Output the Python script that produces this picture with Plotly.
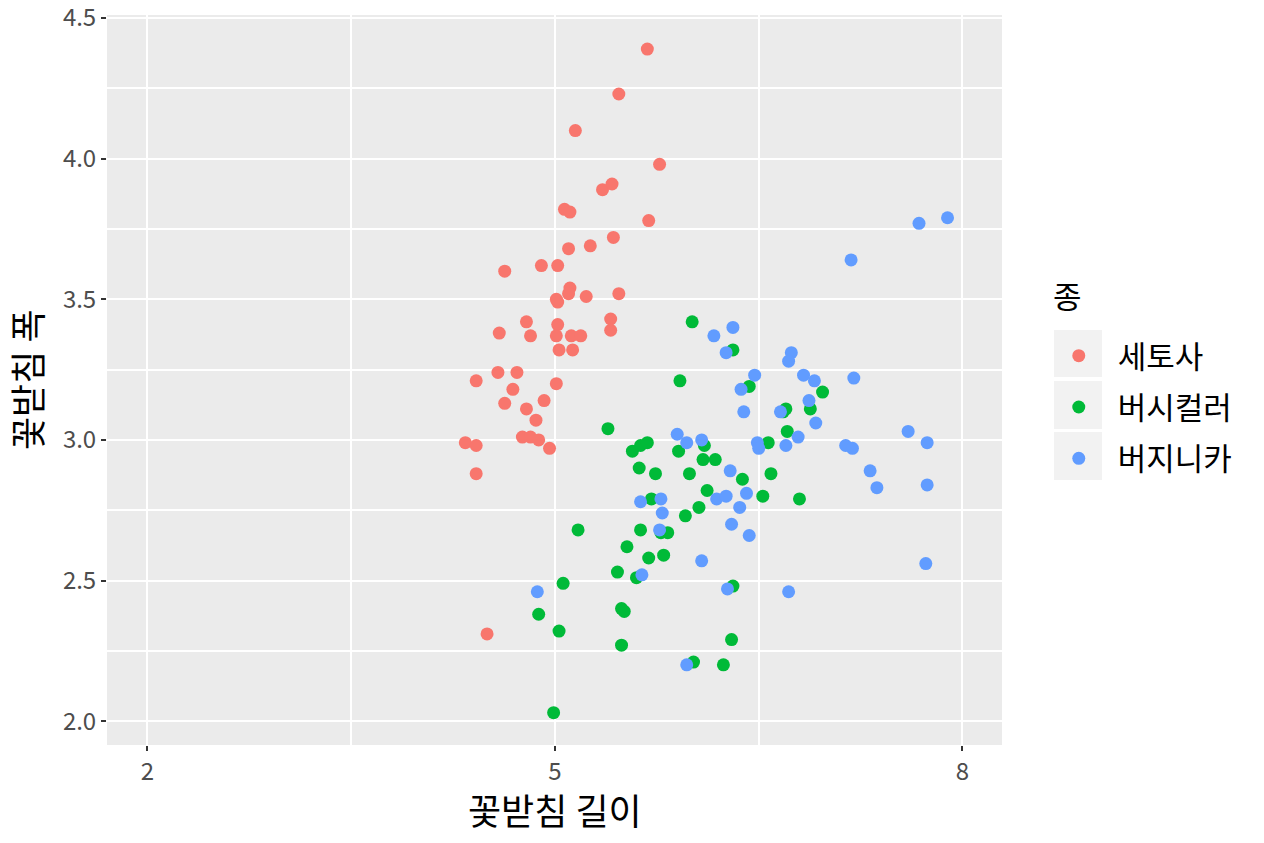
import plotly.graph_objects as go

# 꽃받침 길이 / 폭 (jittered)
setosa_x = [5.68, 5.47, 5.15, 5.77, 5.35, 5.42, 5.07, 5.11, 5.69, 5.43,
            5.26, 5.10, 4.90, 5.02, 4.63, 5.11, 5.10, 5.02, 5.23, 5.47,
            5.01, 5.41, 5.41, 4.79, 4.59, 4.82, 5.02, 5.01, 5.12, 5.19,
            5.03, 5.13, 4.58, 4.72, 4.42, 4.69, 5.01, 4.63, 4.79, 4.92,
            4.86, 4.76, 4.82, 4.88, 4.96, 4.34, 4.42, 4.42, 4.50]
setosa_y = [4.39, 4.23, 4.10, 3.98, 3.89, 3.91, 3.82, 3.81, 3.78, 3.72,
            3.69, 3.68, 3.62, 3.62, 3.60, 3.54, 3.52, 3.49, 3.51, 3.52,
            3.50, 3.43, 3.39, 3.42, 3.38, 3.37, 3.41, 3.37, 3.37, 3.37,
            3.32, 3.32, 3.24, 3.24, 3.21, 3.18, 3.20, 3.13, 3.11, 3.14,
            3.07, 3.01, 3.01, 3.00, 2.97, 2.99, 2.98, 2.88, 2.31]

versicolor_x = [6.01, 6.31, 5.92, 6.43, 6.70, 6.68, 6.71, 6.88, 6.57, 5.39,
                5.57, 5.63, 5.68, 5.91, 6.10, 6.09, 6.18, 5.62, 5.74, 5.99,
                6.38, 6.59, 6.12, 6.53, 5.71, 6.06, 5.96, 5.63, 5.78, 5.83,
                5.53, 5.80, 5.69, 5.46, 5.60, 6.31, 5.49, 5.51, 6.30, 5.49,
                6.02, 6.24, 6.97, 6.80, 5.17, 5.06, 4.88, 5.03, 4.99]
versicolor_y = [3.42, 3.32, 3.21, 3.19, 3.11, 3.10, 3.03, 3.11, 2.99, 3.04,
                2.96, 2.98, 2.99, 2.96, 2.98, 2.93, 2.93, 2.90, 2.88, 2.88,
                2.86, 2.88, 2.82, 2.80, 2.79, 2.76, 2.73, 2.68, 2.67, 2.67,
                2.62, 2.59, 2.58, 2.53, 2.51, 2.48, 2.40, 2.39, 2.29, 2.27,
                2.21, 2.20, 3.17, 2.79, 2.68, 2.49, 2.38, 2.32, 2.03]

virginica_x = [7.89, 7.68, 7.18, 6.31, 6.17, 6.26, 6.74, 6.72, 6.47, 6.83,
               7.20, 6.91, 6.37, 6.87, 6.92, 6.39, 6.66, 7.14, 7.19, 7.60,
               7.74, 5.90, 5.97, 6.08, 6.49, 6.50, 6.70, 6.79, 6.29, 7.32,
               7.37, 7.74, 5.63, 5.78, 5.79, 6.19, 6.26, 6.41, 6.36, 6.30,
               6.43, 5.77, 6.08, 5.64, 6.27, 6.72, 7.73, 4.87, 5.97]
virginica_y = [3.79, 3.77, 3.64, 3.40, 3.37, 3.31, 3.31, 3.28, 3.23, 3.23,
               3.22, 3.21, 3.18, 3.14, 3.06, 3.10, 3.10, 2.98, 2.97, 3.03,
               2.99, 3.02, 2.99, 3.00, 2.99, 2.97, 2.98, 3.01, 2.89, 2.89,
               2.83, 2.84, 2.78, 2.79, 2.74, 2.79, 2.80, 2.81, 2.76, 2.70,
               2.66, 2.68, 2.57, 2.52, 2.47, 2.46, 2.56, 2.46, 2.20]

species = ["세토사", "버시컬러", "버지니카"]
colors = ["#F8766D", "#00BA38", "#619CFF"]
xs = [setosa_x, versicolor_x, virginica_x]
ys = [setosa_y, versicolor_y, virginica_y]

font = "Noto Sans CJK KR"

fig = go.Figure()
for name, col, x, y in zip(species, colors, xs, ys):
    fig.add_trace(go.Scatter(x=x, y=y, mode="markers", name=name, legendgroup=name,
                             marker=dict(color=col, size=13, line=dict(width=0))))

# legend key backgrounds like ggplot
key_rows = [(0.5685, 0.504), (0.4986, 0.4329), (0.4288, 0.363)]
for top, bot in key_rows:
    fig.add_shape(type="rect", xref="paper", yref="paper",
                  x0=1.0581, x1=1.1117, y0=bot, y1=top,
                  fillcolor="#F2F2F2", line_width=0, layer="below")

# legend title and axis titles as annotations so they sit where ggplot puts them
fig.add_annotation(text="종", xref="paper", yref="paper", x=1.055, y=0.617,
                   xanchor="left", yanchor="middle", showarrow=False,
                   font=dict(size=31, color="black"))
fig.add_annotation(text="꽃받침 길이", xref="paper", yref="paper", x=0.5, y=-0.087,
                   xanchor="center", yanchor="middle", showarrow=False,
                   font=dict(size=36, color="black"))
fig.add_annotation(text="꽃받침 폭", xref="paper", yref="paper", x=-0.0905, y=0.5,
                   xanchor="center", yanchor="middle", textangle=-90, showarrow=False,
                   font=dict(size=36, color="black"))

# page body has an 8px margin, so the figure is a little smaller and shifted
fig.update_layout(
    width=1256, height=835,
    margin=dict(l=99, r=262, t=7, b=98),
    paper_bgcolor="white", plot_bgcolor="#EBEBEB",
    font=dict(family=font, color="#4D4D4D"),
    legend=dict(font=dict(size=31, color="black"),
                x=1.0422, y=0.5698, xanchor="left", yanchor="top",
                itemwidth=68, tracegroupgap=8, bgcolor="rgba(0,0,0,0)"),
)
fig.update_xaxes(range=[1.702, 8.291], tickvals=[2, 5, 8], ticktext=["2", "5", "8"],
                 showgrid=True, gridcolor="white", gridwidth=2.2,
                 minor=dict(tickvals=[3.5, 6.5], showgrid=True, gridcolor="white", gridwidth=2),
                 zeroline=False, showline=False, automargin=False,
                 ticks="outside", ticklen=5, tickcolor="#333333", tickwidth=2,
                 ticklabeloverflow="allow",
                 tickfont=dict(size=24, color="#4D4D4D"))
fig.update_yaxes(range=[1.915, 4.511], tickvals=[2.0, 2.5, 3.0, 3.5, 4.0, 4.5],
                 ticktext=["2.0", "2.5", "3.0", "3.5", "4.0", "4.5"],
                 showgrid=True, gridcolor="white", gridwidth=2.2,
                 minor=dict(tickvals=[2.25, 2.75, 3.25, 3.75, 4.25], showgrid=True,
                            gridcolor="white", gridwidth=2),
                 zeroline=False, showline=False, automargin=False,
                 ticks="outside", ticklen=5, tickcolor="#333333", tickwidth=2,
                 ticklabeloverflow="allow",
                 tickfont=dict(size=24, color="#4D4D4D"))

fig.write_html("out.html")
